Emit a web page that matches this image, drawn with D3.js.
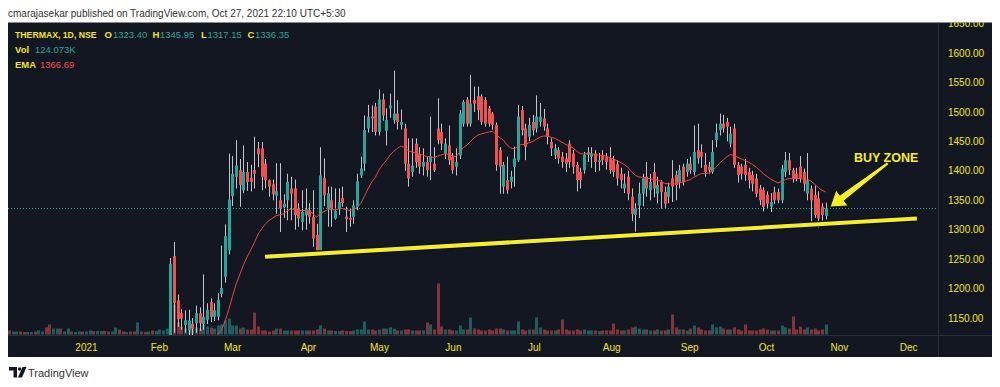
<!DOCTYPE html>
<html><head><meta charset="utf-8">
<script src="https://cdn.jsdelivr.net/npm/d3@7"></script>
<style>
html,body{margin:0;padding:0;background:#ffffff;}
svg{display:block;font-family:"Liberation Sans",Arial,sans-serif;}
</style>
</head><body>
<svg id="chart" width="1000" height="387"></svg>
<script>
// ---------- data (bar index 0 = early Dec 2020, 223 = Oct 27 2021) ----------
const open = [
948,944,950,958,953,948,955,966,960,963,970,965,955,962,971,968,973,980,975,982,990,
986,996,1008,1000,1004,1016,1010,1003,1008,1018,1012,1005,1010,1003,995,1000,992,986,994,990,
996,1024,1050,1062,1255,1180,1158,1138,1129,1140,
1141,1158,1140,1147,1177,1152,1152,1191,1220,1265,
1357,1390,1401,1367,1398,1388,1401,1438,1438,1412,
1384,1377,1358,1350,1338,1350,1370,1370,1336,1313,
1325,1333,1322,1291,1265,1388,1336,1350,1319,1336,
1354,1322,1320,1322,1339,1392,1412,1472,1492,1509,
1466,1521,1468,1506,1486,1497,1478,1472,1412,1398,
1446,1429,1407,1415,1415,1412,1472,1466,1429,1443,
1424,1407,1426,1480,1521,1480,1520,1527,1526,1520,
1506,1497,1478,1435,1373,1384,1381,1407,1418,1503,
1472,1458,1483,1472,1483,1489,1472,1449,1427,1435,
1424,1421,1446,1429,1410,1398,1401,1427,1424,1429,
1415,1427,1424,1421,1418,1412,1395,1370,1390,1356,
1325,1341,1361,1390,1367,1398,1361,1381,1364,1356,
1387,1393,1381,1407,1398,1412,1398,1435,1432,1410,
1407,1398,1452,1469,1480,1483,1446,1472,1410,1407,
1410,1398,1393,1387,1370,1367,1359,1339,1364,1364,
1350,1398,1418,1401,1395,1407,1398,1361,1370,1359,1353,1339,1323.40];
const high = [
955,952,962,965,960,958,970,972,968,975,978,972,966,974,980,976,984,988,985,995,998,
1000,1012,1015,1010,1020,1025,1018,1012,1022,1028,1020,1015,1018,1010,1005,1008,1000,998,1004,1000,
1030,1060,1080,1252,1279,1190,1165,1163,1164,1150,
1171,1168,1224,1175,1183,1175,1192,1273,1309,1429,
1425,1452,1420,1443,1415,1410,1458,1449,1449,1420,
1385,1385,1413,1413,1360,1395,1390,1385,1345,1367,
1370,1345,1367,1310,1440,1421,1373,1373,1370,1370,
1373,1339,1335,1350,1395,1424,1494,1512,1511,1515,
1538,1531,1506,1531,1570,1520,1504,1480,1455,1455,
1455,1440,1438,1425,1492,1440,1523,1480,1455,1477,
1430,1438,1503,1520,1525,1563,1543,1543,1530,1525,
1510,1500,1482,1440,1415,1424,1400,1441,1512,1510,
1480,1490,1495,1528,1515,1505,1480,1455,1445,1440,
1432,1430,1452,1435,1415,1405,1432,1440,1440,1435,
1430,1435,1430,1440,1425,1418,1405,1395,1400,1370,
1345,1380,1395,1415,1395,1413,1390,1384,1373,1380,
1418,1400,1410,1412,1420,1424,1477,1480,1445,1430,
1415,1452,1480,1497,1495,1490,1475,1480,1415,1412,
1420,1405,1400,1395,1376,1372,1365,1362,1373,1370,
1410,1432,1430,1405,1405,1425,1404,1430,1375,1375,1365,1345,1345.95];
const low = [
940,936,946,950,945,944,952,955,951,958,962,950,948,957,964,960,968,970,969,978,981,
982,990,995,990,1000,1005,998,995,1002,1008,1000,996,1000,990,985,988,980,978,985,982,
990,1015,1035,1058,1125,1135,1130,1125,1120,1120,
1125,1128,1130,1140,1143,1145,1146,1185,1210,1258,
1340,1370,1339,1362,1366,1365,1370,1406,1367,1370,
1356,1350,1327,1296,1320,1316,1316,1300,1305,1299,
1300,1310,1271,1262,1262,1340,1305,1305,1317,1325,
1339,1296,1305,1310,1333,1388,1400,1465,1466,1460,
1460,1485,1443,1490,1480,1470,1470,1400,1373,1390,
1405,1395,1392,1390,1384,1398,1445,1435,1420,1410,
1395,1392,1420,1475,1475,1475,1500,1486,1478,1475,
1475,1470,1400,1361,1361,1361,1370,1373,1415,1460,
1418,1450,1460,1465,1475,1468,1445,1425,1420,1412,
1405,1398,1405,1395,1365,1370,1395,1415,1405,1398,
1400,1410,1402,1395,1390,1375,1370,1362,1350,1315,
1288,1320,1340,1356,1350,1355,1345,1336,1336,1345,
1347,1350,1370,1375,1390,1395,1392,1412,1405,1390,
1395,1395,1440,1460,1465,1450,1440,1405,1380,1385,
1383,1370,1365,1355,1342,1331,1335,1330,1344,1345,
1345,1390,1393,1380,1382,1380,1365,1350,1310,1320,1303,1315,1317.15];
const close = [
944,950,958,953,948,955,966,960,963,970,965,955,962,971,968,973,980,975,982,990,986,
996,1008,1000,1004,1016,1010,1003,1008,1018,1012,1005,1010,1003,995,1000,992,986,994,990,996,
1024,1050,1062,1242,1175,1148,1149,1146,1146,1132,
1158,1141,1152,1164,1152,1163,1181,1201,1289,1351,
1395,1409,1376,1398,1381,1381,1395,1428,1390,1384,
1373,1360,1365,1336,1344,1381,1361,1325,1319,1330,
1335,1322,1285,1265,1392,1358,1362,1336,1332,1347,
1345,1318,1317,1341,1382,1404,1469,1492,1489,1466,
1521,1494,1486,1511,1497,1483,1483,1412,1387,1409,
1415,1407,1415,1401,1424,1401,1452,1446,1446,1418,
1401,1415,1497,1517,1480,1514,1514,1503,1483,1480,
1480,1478,1410,1407,1410,1367,1390,1421,1492,1469,
1441,1478,1469,1492,1492,1475,1458,1438,1438,1421,
1415,1412,1415,1407,1384,1384,1427,1432,1429,1415,
1418,1418,1415,1401,1398,1387,1384,1378,1361,1327,
1336,1361,1387,1370,1381,1370,1376,1364,1344,1373,
1373,1376,1401,1381,1412,1401,1432,1421,1424,1398,
1401,1432,1465,1480,1472,1475,1463,1410,1393,1395,
1393,1384,1378,1361,1350,1339,1344,1347,1350,1350,
1404,1418,1401,1387,1387,1387,1378,1384,1350,1325,1319,1325,1336.35];
// volume in thousands
const volume = [
50,37,37,37,31,31,31,37,50,37,
87,124,74,74,74,37,74,37,31,37,37,
37,50,43,43,43,43,37,37,87,62,
37,31,37,37,149,37,31,37,50,43,
62,50,74,560,372,149,99,74,62,74,
87,74,124,99,87,74,112,124,174,198,
112,112,74,87,62,62,273,99,50,50,
37,50,74,74,50,50,50,50,50,50,
50,50,50,62,112,74,50,50,43,43,
50,43,43,50,62,62,161,62,62,50,
62,74,74,87,74,50,50,62,62,50,
50,50,50,149,124,62,632,99,62,62,
50,50,112,62,62,211,74,62,50,50,
62,50,74,74,62,50,50,50,161,62,
50,62,62,211,87,62,50,50,50,62,
186,62,50,50,62,50,62,50,50,50,
43,50,50,50,136,62,50,50,62,87,
99,74,62,62,50,50,62,50,50,62,
248,87,62,62,50,74,112,87,62,50,
50,124,87,99,74,62,62,87,62,50,
124,50,50,50,62,74,62,50,50,50,
112,87,74,223,62,99,62,87,62,74,50,62,124.073];

const monthTickIdx = [21.0,40.9,60.9,81.6,101,121.2,143.3,164.4,185.7,206.7,226.6,245.5];
const monthLabels  = ["2021","Feb","Mar","Apr","May","Jun","Jul","Aug","Sep","Oct","Nov","Dec"];
const priceTicks   = [1150,1200,1250,1300,1350,1400,1450,1500,1550,1600,1650];
const emaPeriod = 20;
const emaLastLabel = "1366.69";
// annotation: support trend line and arrow, in (bar index, price)
const trendLine = [[69.9,1254],[247.9,1319]];
const arrowTail = [240,1413], arrowTip = [224.2,1338.5];
const buyZoneAt = [230.7,1415.4];

// ---------- layout ----------
const svg = d3.select("#chart");
const plot = {l:8, r:938, t:22.5, b:335};
const frame = {l:8, r:992, t:22.5, b:357};
const UP="#26a69a", DOWN="#ef5350", YEL="#f5e61a", BG="#131722", WICK="#c2c5cc";

const x = d3.scaleLinear().domain([0,223]).range([9.1,825.7]);
const y = d3.scaleLinear().domain([1150,1600]).range([318,53]);
const yv = d3.scaleLinear().domain([0,780]).range([334.5,271.5]);

const n = close.length;

// background & frame
svg.append("rect").attr("x",frame.l).attr("y",frame.t).attr("width",frame.r-frame.l).attr("height",frame.b-frame.t).attr("fill",BG);
svg.append("line").attr("x1",plot.r+0.5).attr("x2",plot.r+0.5).attr("y1",frame.t).attr("y2",frame.b).attr("stroke","#2a2e39");
svg.append("line").attr("x1",frame.l).attr("x2",frame.r).attr("y1",plot.b+0.5).attr("y2",plot.b+0.5).attr("stroke","#2a2e39");

const defs = svg.append("defs");
defs.append("clipPath").attr("id","pclip").append("rect").attr("x",plot.l).attr("y",plot.t).attr("width",plot.r-plot.l).attr("height",plot.b-plot.t);
defs.append("clipPath").attr("id","aclip").append("rect").attr("x",plot.r).attr("y",plot.t).attr("width",frame.r-plot.r).attr("height",plot.b-plot.t);

const g = svg.append("g").attr("clip-path","url(#pclip)");
const idx = d3.range(n);
const cx = i => Math.round(x(i));
const isUp = i => close[i] >= open[i];

// volume
g.append("g").selectAll("rect").data(idx).join("rect")
  .attr("x", i=>cx(i)-1).attr("width",3)
  .attr("y", i=>yv(volume[i])).attr("height", i=>yv(0)-yv(volume[i]))
  .attr("fill", i=>isUp(i)?UP:DOWN).attr("fill-opacity",0.5);

// wicks
g.append("g").selectAll("rect").data(idx).join("rect")
  .attr("x", i=>cx(i)).attr("width",1)
  .attr("y", i=>y(high[i])).attr("height", i=>Math.max(1,y(low[i])-y(high[i])))
  .attr("fill", WICK);
// bodies
g.append("g").selectAll("rect").data(idx).join("rect")
  .attr("x", i=>cx(i)-1).attr("width",3)
  .attr("y", i=>y(Math.max(open[i],close[i])))
  .attr("height", i=>Math.max(1,Math.abs(y(open[i])-y(close[i]))))
  .attr("fill", i=>isUp(i)?UP:DOWN);

// EMA
const k = 2/(emaPeriod+1);
const ema = [];
close.forEach((c,i)=>{ ema.push(i===0?c:ema[i-1]+k*(c-ema[i-1])); });
g.append("path").datum(idx)
  .attr("d", d3.line().x(i=>x(i)).y(i=>y(ema[i])))
  .attr("fill","none").attr("stroke","#f0463c").attr("stroke-width",1);

// last price dotted line
g.append("line").attr("x1",plot.l).attr("x2",plot.r).attr("y1",Math.round(y(close[n-1]))+0.5).attr("y2",Math.round(y(close[n-1]))+0.5)
  .attr("stroke",UP).attr("stroke-dasharray","1,2").attr("stroke-width",1);

// support trend line
const tl = d3.line().x(d=>x(d[0])).y(d=>y(d[1]));
g.append("path").datum(trendLine).attr("d",tl).attr("stroke","#0b0d12").attr("stroke-width",6.5).attr("fill","none");
g.append("path").datum(trendLine).attr("d",tl).attr("stroke","#f7ef22").attr("stroke-width",4).attr("fill","none");

// arrow
(function(){
  const T=[x(arrowTail[0]),y(arrowTail[1])], P=[x(arrowTip[0]),y(arrowTip[1])];
  const dx=P[0]-T[0], dy=P[1]-T[1], L=Math.hypot(dx,dy);
  const u=[dx/L,dy/L], nn=[-u[1],u[0]];
  const hl=15, hw=10, w0=1.5, w1=3.5;
  const B=[P[0]-u[0]*hl, P[1]-u[1]*hl];
  const pt=(p,s)=>[p[0]+nn[0]*s,p[1]+nn[1]*s];
  const pts=[pt(T,w0),pt(B,w1),pt(B,hw),P,pt(B,-hw),pt(B,-w1),pt(T,-w0)];
  g.append("path").attr("d",d3.line()(pts)+"Z").attr("fill","#f7ef22").attr("stroke","#0b0d12").attr("stroke-width",0.8);
})();
g.append("text").attr("x",x(buyZoneAt[0])).attr("y",y(buyZoneAt[1]))
  .attr("fill","#f7ef22").attr("font-size",12.5).attr("font-weight","bold").text("BUY ZONE");

// price axis
const ay = svg.append("g").attr("clip-path","url(#aclip)").append("g").attr("transform",`translate(${plot.r},0)`)
  .call(d3.axisRight(y).tickValues(priceTicks).tickFormat(d3.format(".2f")).tickSize(0).tickPadding(10));
ay.select(".domain").remove();
ay.selectAll("text").attr("fill",YEL).attr("font-size",10).attr("font-family","Liberation Sans, Arial, sans-serif");

// time axis
const ax = svg.append("g").attr("transform",`translate(0,${plot.b})`)
  .call(d3.axisBottom(x).tickValues(monthTickIdx).tickFormat((d,i)=>monthLabels[i]).tickSize(0).tickPadding(8.5));
ax.select(".domain").remove();
ax.selectAll("text").attr("fill",YEL).attr("font-size",10).attr("font-family","Liberation Sans, Arial, sans-serif");

// header
svg.append("text").attr("x",8).attr("y",17).attr("fill","#333").attr("font-size",10).attr("font-family","Liberation Sans, Arial, sans-serif")
  .text("cmarajasekar published on TradingView.com, Oct 27, 2021 22:10 UTC+5:30");

// legend
const fmt2 = d3.format(".2f");
const leg = svg.append("g").attr("font-size",9.5);
function t(xp,yp,txt,col,bold,fs){ const e=leg.append("text").attr("x",xp).attr("y",yp).attr("fill",col).attr("font-weight",bold?"bold":"normal").text(txt); if(fs) e.attr("font-size",fs); }
t(15,38.3,"THERMAX, 1D, NSE",YEL,true,8.7);
t(104.5,38.3,"O",YEL,true); t(113,38.3,fmt2(open[n-1]),UP);
t(152.5,38.3,"H",YEL,true); t(160,38.3,fmt2(high[n-1]),UP);
t(201,38.3,"L",YEL,true); t(207.5,38.3,fmt2(low[n-1]),UP);
t(247.5,38.3,"C",YEL,true); t(255,38.3,fmt2(close[n-1]),UP);
t(15,53.3,"Vol",YEL,true); t(35,53.3,d3.format(".3f")(volume[n-1])+"K",UP);
t(15,67.7,"EMA",YEL,true); t(40,67.7,emaLastLabel,DOWN);

// footer logo
const lg = svg.append("g").attr("fill","#131722");
lg.append("path").attr("d","M9,367 H17 V377.5 H13.5 V370.5 H9 Z");
lg.append("circle").attr("cx",19.6).attr("cy",369).attr("r",1.7);
lg.append("path").attr("d","M22.5,367 H26.5 L22,377.5 H18 Z");
svg.append("text").attr("x",28).attr("y",376.5).attr("fill","#333").attr("font-size",11).text("TradingView");
</script>
</body></html>
